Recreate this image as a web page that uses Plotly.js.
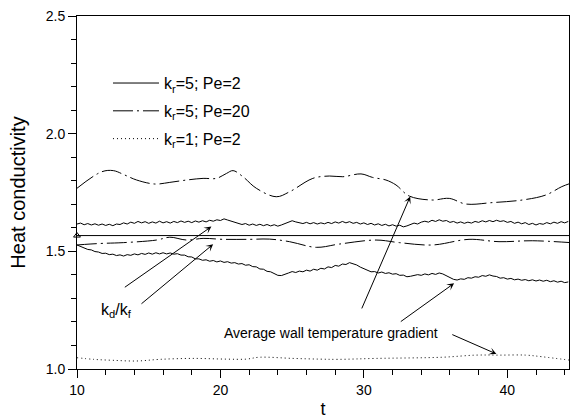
<!DOCTYPE html>
<html>
<head>
<meta charset="utf-8">
<script src="https://cdn.plot.ly/plotly-3.0.1.min.js"></script>
<style>html,body{margin:0;padding:0;background:#fff;}#chart{width:572px;height:419px;}</style>
</head>
<body>
<div id="chart"></div>
<script>
// Time grid of the two noisy solid curves (kr=5; Pe=2)
const tW = [10,10.25,10.5,10.75,11,11.25,11.5,11.75,12,12.25,12.5,12.75,13,13.25,13.5,13.75,14,14.25,14.5,14.75,15,15.25,15.5,15.75,16,16.25,16.5,16.75,17,17.25,17.5,17.75,18,18.25,18.5,18.75,19,19.25,19.5,19.75,20,20.25,20.5,20.75,21,21.25,21.5,21.75,22,22.25,22.5,22.75,23,23.25,23.5,23.75,24,24.25,24.5,24.75,25,25.25,25.5,25.75,26,26.25,26.5,26.75,27,27.25,27.5,27.75,28,28.25,28.5,28.75,29,29.25,29.5,29.75,30,30.25,30.5,30.75,31,31.25,31.5,31.75,32,32.25,32.5,32.75,33,33.25,33.5,33.75,34,34.25,34.5,34.75,35,35.25,35.5,35.75,36,36.25,36.5,36.75,37,37.25,37.5,37.75,38,38.25,38.5,38.75,39,39.25,39.5,39.75,40,40.25,40.5,40.75,41,41.25,41.5,41.75,42,42.25,42.5,42.75,43,43.25,43.5,43.75,44,44.25];

// kr=5; Pe=2 heat conductivity
const cond_kr5_pe2 = [1.616,1.620,1.613,1.618,1.612,1.617,1.611,1.616,1.610,1.615,1.609,1.616,1.614,1.621,1.616,1.624,1.619,1.627,1.621,1.626,1.619,1.625,1.620,1.628,1.621,1.626,1.620,1.627,1.622,1.629,1.623,1.628,1.622,1.629,1.624,1.630,1.625,1.632,1.628,1.634,1.631,1.638,1.633,1.629,1.622,1.618,1.614,1.618,1.611,1.616,1.610,1.615,1.609,1.614,1.608,1.613,1.607,1.612,1.618,1.626,1.630,1.625,1.622,1.618,1.623,1.617,1.622,1.616,1.621,1.617,1.623,1.618,1.625,1.620,1.627,1.621,1.626,1.619,1.623,1.616,1.621,1.614,1.619,1.612,1.617,1.610,1.615,1.608,1.613,1.607,1.611,1.604,1.608,1.614,1.620,1.616,1.624,1.628,1.624,1.632,1.627,1.634,1.628,1.631,1.623,1.627,1.620,1.625,1.619,1.624,1.620,1.627,1.623,1.630,1.625,1.631,1.626,1.632,1.627,1.630,1.623,1.627,1.619,1.624,1.617,1.622,1.614,1.619,1.612,1.618,1.615,1.622,1.617,1.624,1.619,1.626,1.621,1.627];

// kr=5; Pe=2 average wall temperature gradient
const grad_kr5_pe2 = [1.527,1.520,1.516,1.508,1.506,1.499,1.497,1.491,1.492,1.486,1.488,1.482,1.485,1.480,1.486,1.483,1.489,1.485,1.491,1.487,1.493,1.488,1.494,1.489,1.494,1.489,1.493,1.488,1.490,1.484,1.484,1.477,1.476,1.468,1.468,1.462,1.464,1.458,1.461,1.455,1.459,1.453,1.456,1.450,1.452,1.446,1.448,1.441,1.443,1.435,1.434,1.425,1.424,1.415,1.413,1.405,1.398,1.397,1.404,1.408,1.414,1.410,1.416,1.413,1.420,1.416,1.424,1.420,1.428,1.425,1.434,1.431,1.440,1.437,1.446,1.444,1.452,1.447,1.442,1.433,1.426,1.418,1.413,1.414,1.408,1.412,1.406,1.409,1.403,1.405,1.398,1.399,1.392,1.394,1.397,1.401,1.398,1.404,1.400,1.406,1.402,1.408,1.404,1.397,1.389,1.381,1.378,1.383,1.381,1.388,1.386,1.392,1.390,1.397,1.394,1.400,1.395,1.393,1.386,1.388,1.382,1.385,1.379,1.382,1.377,1.380,1.375,1.379,1.374,1.378,1.373,1.377,1.371,1.375,1.369,1.373,1.367,1.370];

// kr=5; Pe=20 heat conductivity
const tCondPe20 = [10,11.72,12.53,13.34,14.16,15.43,16.47,17.64,18.79,19.72,20.42,20.88,21.57,22.5,23.89,24.82,26.44,27.6,28.53,29.8,30.61,31.54,32.24,33.16,34.76,35.95,37.11,38.94,41.03,42.67,43.8,44.41];
const cond_kr5_pe20 = [1.768,1.838,1.843,1.824,1.803,1.786,1.793,1.803,1.810,1.810,1.831,1.843,1.817,1.768,1.732,1.753,1.810,1.820,1.817,1.829,1.814,1.803,1.782,1.735,1.718,1.725,1.701,1.707,1.718,1.739,1.775,1.789];

// kr=5; Pe=20 average wall temperature gradient
const tGradPe20 = [10,10.91,11.84,13.23,15.55,16.47,17.64,18.79,20.18,22.04,23.43,24.82,26.68,28.3,30.85,32.47,34.78,37.33,39.42,41.74,44.41];
const grad_kr5_pe20 = [1.527,1.531,1.534,1.537,1.548,1.560,1.548,1.555,1.551,1.551,1.552,1.541,1.517,1.531,1.548,1.537,1.527,1.551,1.541,1.545,1.537];

// kr=1; Pe=2 average wall temperature gradient
const tGradKr1 = [10,11.16,12.5,14.16,15.78,18.09,20.41,21.8,22.73,25.05,26.9,28.2,30.85,35.48,37.8,39.42,41.28,42.43,44.3];
const grad_kr1_pe2 = [1.048,1.041,1.037,1.034,1.041,1.045,1.042,1.042,1.050,1.045,1.042,1.041,1.045,1.050,1.059,1.059,1.059,1.052,1.038];

// kd/kf reference level (kr=5)
const tRef = [10,44.3];
const kdkf = [1.567,1.567];

const legendNames = ['k<sub>r</sub>=5; Pe=2','k<sub>r</sub>=5; Pe=20','k<sub>r</sub>=1; Pe=2'];
const xTicks = [10,20,30,40];
const yTicks = [1.0,1.5,2.0,2.5];

const FONT = 'Liberation Sans, Arial, Helvetica, sans-serif';
const line = (dash) => ({color:'#000', width:1, dash:dash});

const traces = [
  {x:tW, y:cond_kr5_pe2, mode:'lines', line:line('solid'), name:legendNames[0], legendgroup:'a'},
  {x:tCondPe20, y:cond_kr5_pe20, mode:'lines', line:Object.assign(line('20px,4px,2px,4px'),{shape:'spline'}), name:legendNames[1], legendgroup:'b'},
  {x:tGradKr1, y:grad_kr1_pe2, mode:'lines', line:Object.assign(line('1px,3px'),{shape:'spline'}), name:legendNames[2], legendgroup:'c'},
  {x:tW, y:grad_kr5_pe2, mode:'lines', line:line('solid'), showlegend:false},
  {x:tGradPe20, y:grad_kr5_pe20, mode:'lines', line:Object.assign(line('20px,4px,2px,4px'),{shape:'spline'}), showlegend:false},
  {x:tRef, y:kdkf, mode:'lines', line:line('solid'), showlegend:false},
  {x:[tRef[0]], y:[kdkf[0]], mode:'markers', marker:{symbol:'triangle-up-open', size:6, color:'#000', line:{width:1,color:'#000'}}, showlegend:false, cliponaxis:false}
];

const arrow = (x,y,ax,ay) => ({x:x, y:y, ax:ax, ay:ay, xref:'x', yref:'y', axref:'x', ayref:'y', showarrow:true, arrowhead:3, arrowsize:1.2, arrowwidth:1, arrowcolor:'#000', text:''});

const layout = {
  width:572, height:419,
  margin:{l:77, r:3, t:16, b:50},
  paper_bgcolor:'#fff', plot_bgcolor:'#fff',
  font:{family:FONT, color:'#000', size:14},
  showlegend:true,
  legend:{x:0.063, y:0.858, xanchor:'left', yanchor:'top', bgcolor:'rgba(0,0,0,0)', font:{size:16, family:FONT}, tracegroupgap:4, itemwidth:46},
  xaxis:{range:[10,44.3], tickvals:xTicks, ticks:'outside', ticklen:8, tickwidth:1, tickcolor:'#000',
    showline:true, linecolor:'#000', linewidth:1, mirror:true, showgrid:false, zeroline:false,
    minor:{dtick:2, ticks:'outside', ticklen:5, tickwidth:1, tickcolor:'#000', showgrid:false},
    tickfont:{size:14}, title:{text:'t', font:{size:18}, standoff:8}},
  yaxis:{range:[1.0,2.5], tickvals:yTicks, tickformat:'.1f', ticks:'outside', ticklen:8, tickwidth:1, tickcolor:'#000',
    showline:true, linecolor:'#000', linewidth:1, mirror:true, showgrid:false, zeroline:false,
    minor:{dtick:0.1, ticks:'outside', ticklen:5, tickwidth:1, tickcolor:'#000', showgrid:false},
    tickfont:{size:14}, title:{text:'Heat conductivity', font:{size:20}, standoff:14}},
  annotations:[
    arrow(19.37,1.605,13.23,1.343),
    arrow(19.49,1.530,14.39,1.272),
    arrow(33.23,1.733,29.81,1.251),
    arrow(36.29,1.364,32.47,1.197),
    arrow(39.24,1.064,36.06,1.149),
    {x:12.78, y:1.247, xref:'x', yref:'y', text:'k<sub>d</sub>/k<sub>f</sub>', showarrow:false, font:{size:16}},
    {x:27.72, y:1.152, xref:'x', yref:'y', text:'Average wall temperature gradient', showarrow:false, font:{size:14}}
  ]
};

Plotly.newPlot('chart', traces, layout, {staticPlot:true, displayModeBar:false});
</script>
</body>
</html>
